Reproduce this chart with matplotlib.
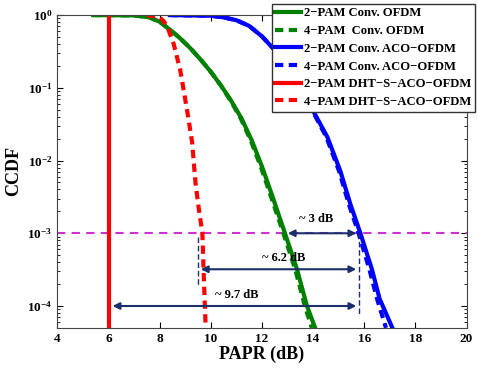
import matplotlib
matplotlib.use("Agg")
import matplotlib.pyplot as plt

plt.rcParams['font.family'] = ['Liberation Serif', 'DejaVu Serif']
plt.rcParams['font.weight'] = 'bold'
plt.rcParams['mathtext.fontset'] = 'custom'
plt.rcParams['mathtext.rm'] = 'Liberation Serif:bold'
plt.rcParams['mathtext.it'] = 'Liberation Serif:bold'
plt.rcParams['mathtext.bf'] = 'Liberation Serif:bold'

# CCDF curves (PAPR in dB, CCDF)
papr_2pam_conv = [5.4, 7.0, 7.6, 8.0, 8.4, 8.8, 9.2, 9.6, 10.0, 10.4, 10.8, 11.2, 11.6, 12.0, 12.4, 12.9, 13.37, 13.76, 14.08]
ccdf_2pam_conv = [1.0, 0.99, 0.93, 0.81, 0.63, 0.48, 0.35, 0.245, 0.166, 0.107, 0.066, 0.038, 0.019, 8.3e-3, 3.3e-3, 1e-3, 3.2e-4, 1e-4, 5e-5]

papr_4pam_conv = [5.4, 7.0, 7.6, 8.0, 8.4, 8.8, 9.2, 9.6, 10.0, 10.4, 10.78, 11.17, 11.56, 11.95, 12.34, 12.84, 13.3, 13.68, 13.95]
ccdf_4pam_conv = [1.0, 0.99, 0.93, 0.81, 0.63, 0.48, 0.35, 0.245, 0.166, 0.107, 0.066, 0.038, 0.019, 8.3e-3, 3.3e-3, 1e-3, 3.2e-4, 1e-4, 5e-5]

papr_2pam_aco = [8.4, 10.0, 10.5, 11.0, 11.5, 12.0, 12.5, 13.0, 13.5, 13.9, 14.56, 15.07, 15.46, 15.85, 16.3, 16.6, 17.1]
ccdf_2pam_aco = [1.0, 0.98, 0.93, 0.85, 0.71, 0.51, 0.33, 0.18, 0.095, 0.056, 0.021, 7.1e-3, 2.5e-3, 1e-3, 3.2e-4, 1.26e-4, 5e-5]

papr_4pam_aco = [8.4, 10.0, 10.5, 11.0, 11.5, 12.0, 12.5, 13.0, 13.49, 13.88, 14.52, 15.02, 15.4, 15.78, 16.2, 16.5, 16.85]
ccdf_4pam_aco = [1.0, 0.98, 0.93, 0.85, 0.71, 0.51, 0.33, 0.18, 0.095, 0.056, 0.021, 7.1e-3, 2.5e-3, 1e-3, 3.2e-4, 1.26e-4, 5e-5]

papr_2pam_dht = [6.0, 6.0]
ccdf_2pam_dht = [1.0, 5e-5]

papr_4pam_dht = [7.5, 8.0, 8.15, 8.3, 8.55, 8.8, 9.07, 9.27, 9.4, 9.52, 9.67, 9.72, 9.8]
ccdf_4pam_dht = [1.0, 0.93, 0.83, 0.69, 0.4, 0.178, 0.05, 0.0178, 5e-3, 2.3e-3, 1e-3, 2.9e-4, 5e-5]

labels = ['2\u2212PAM Conv. OFDM', '4\u2212PAM  Conv. OFDM',
          '2\u2212PAM Conv. ACO\u2212OFDM', '4\u2212PAM Conv. ACO\u2212OFDM',
          '2\u2212PAM DHT\u2212S\u2212ACO\u2212OFDM', '4\u2212PAM DHT\u2212S\u2212ACO\u2212OFDM']

# gain annotations: (start, end, level, text, text x, text y)
gains = [(12.9, 15.8, 1e-3, '~ 3 dB', 14.1, 1.55e-3),
         (9.5, 15.8, 3.2e-4, '~ 6.2 dB', 12.85, 4.6e-4),
         (6.05, 15.8, 1e-4, '~ 9.7 dB', 11.0, 1.4e-4)]

navy = '#1c2f6b'
dash = (2.0, 1.3)

fig = plt.figure(figsize=(4.78, 3.68), dpi=100)
ax = fig.add_axes([0.120, 0.109, 0.856, 0.850])

ax.axhline(1e-3, color='#cc33cc', lw=1.5, ls=(0, (4, 3)))

ax.plot(papr_2pam_conv, ccdf_2pam_conv, color='green', lw=3, label=labels[0])
ax.plot(papr_4pam_conv, ccdf_4pam_conv, color='green', lw=3, dashes=dash, label=labels[1])
ax.plot(papr_2pam_aco, ccdf_2pam_aco, color='blue', lw=3, label=labels[2])
ax.plot(papr_4pam_aco, ccdf_4pam_aco, color='blue', lw=3, dashes=dash, label=labels[3])
ax.plot(papr_2pam_dht, ccdf_2pam_dht, color='red', lw=3, label=labels[4])
ax.plot(papr_4pam_dht, ccdf_4pam_dht, color='red', lw=3, dashes=dash, label=labels[5])

for x0, x1, lev, txt, tx, ty in gains:
    ax.annotate('', xy=(x0, lev), xytext=(x1, lev),
                arrowprops=dict(arrowstyle='<|-|>', color=navy, lw=1.5, mutation_scale=10))
    ax.text(tx, ty, txt, ha='center', va='center', fontsize=9, fontweight='bold')

# dashed guide lines
ax.plot([15.8, 15.8], [1e-3, 7.8e-5], color=navy, lw=1, ls=(0, (4, 2)))
ax.plot([9.5, 9.5], [9e-4, 1.8e-4], color=navy, lw=1, ls=(0, (4, 2)))

ax.set_yscale('log')
ax.set_xlim(4, 20)
ax.set_ylim(5e-5, 1)
ax.set_xticks([4, 6, 8, 10, 12, 14, 16, 18, 20])
ax.tick_params(direction='in', which='both', top=True, right=True, labelsize=9.5)
ax.tick_params(which='major', length=4)
ax.tick_params(which='minor', length=2)
for sp in ax.spines.values():
    sp.set_color('#444444')

ax.set_xlabel('PAPR (dB)', fontsize=13, fontweight='bold', labelpad=1)
ax.set_ylabel('CCDF', fontsize=13, fontweight='bold', labelpad=4)

leg = fig.legend(loc='upper left', bbox_to_anchor=(0.568, 0.99), fontsize=9.1,
                 handlelength=2.0, labelspacing=0.45, borderpad=0.3, handletextpad=0.25,
                 fancybox=False, framealpha=1, edgecolor='#333333', borderaxespad=0)
leg.get_frame().set_linewidth(1.0)

fig.savefig('out.png', dpi=100)
